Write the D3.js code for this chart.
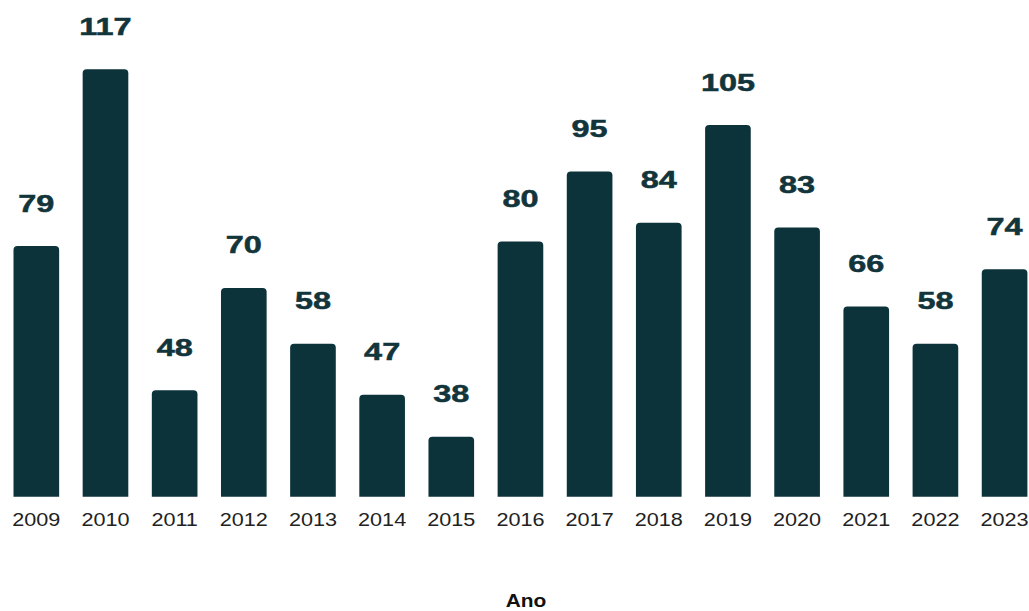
<!DOCTYPE html>
<html><head><meta charset="utf-8">
<script src="https://cdn.jsdelivr.net/npm/d3@7"></script>
<style>html,body{margin:0;padding:0;background:#fff;}svg{display:block;}</style>
</head><body>
<svg id="chart" width="1029" height="611"></svg>
<script>
const years = ["2009","2010","2011","2012","2013","2014","2015","2016","2017","2018","2019","2020","2021","2022","2023"];
const values = [79,117,48,70,58,47,38,80,95,84,105,83,66,58,74];
const xTitle = "Ano";

const svg = d3.select("#chart");
const barColor = "#0c323a";
const font = "Liberation Sans, Arial, Helvetica, sans-serif";

const x = d3.scaleBand().domain(years).range([13.5, 1027.4]).paddingInner(0.34).paddingOuter(0);
const y = d3.scaleLinear().domain([25.1, 117]).range([496.7, 69.3]);

const r = 4;
function barPath(x0, w, yTop, yBot) {
  return `M${x0},${yBot} L${x0},${yTop + r} Q${x0},${yTop} ${x0 + r},${yTop} L${x0 + w - r},${yTop} Q${x0 + w},${yTop} ${x0 + w},${yTop + r} L${x0 + w},${yBot} Z`;
}

svg.append("g").selectAll("path").data(values).join("path")
  .attr("d", (d, i) => barPath(x(years[i]), x.bandwidth(), y(d), y.range()[0]))
  .attr("fill", barColor);

svg.append("g").selectAll("text").data(values).join("text")
  .attr("transform", (d, i) => `translate(${x(years[i]) + x.bandwidth() / 2},${y(d) - 34.5}) scale(1.38,1)`)
  .attr("text-anchor", "middle")
  .attr("font-family", font)
  .attr("font-weight", "bold")
  .attr("font-size", 23.5)
  .attr("fill", "#12343b")
  .attr("stroke", "#12343b")
  .attr("stroke-width", 0.5)
  .text(d => d);

const xAxis = svg.append("g").attr("transform", `translate(0,${y.range()[0]})`)
  .call(d3.axisBottom(x).tickSize(0).tickPadding(0));
xAxis.select(".domain").remove();
xAxis.selectAll("text")
  .attr("dy", 0).attr("y", 0)
  .attr("transform", "translate(0,29) scale(1.17,1)")
  .attr("font-family", font)
  .attr("font-size", 18.5)
  .attr("fill", "#222");

svg.append("text")
  .attr("transform", "translate(526,607) scale(1.1,1)")
  .attr("text-anchor", "middle")
  .attr("font-family", font)
  .attr("font-weight", "bold")
  .attr("font-size", 19)
  .attr("fill", "#111")
  .text(xTitle);
</script>
</body></html>
